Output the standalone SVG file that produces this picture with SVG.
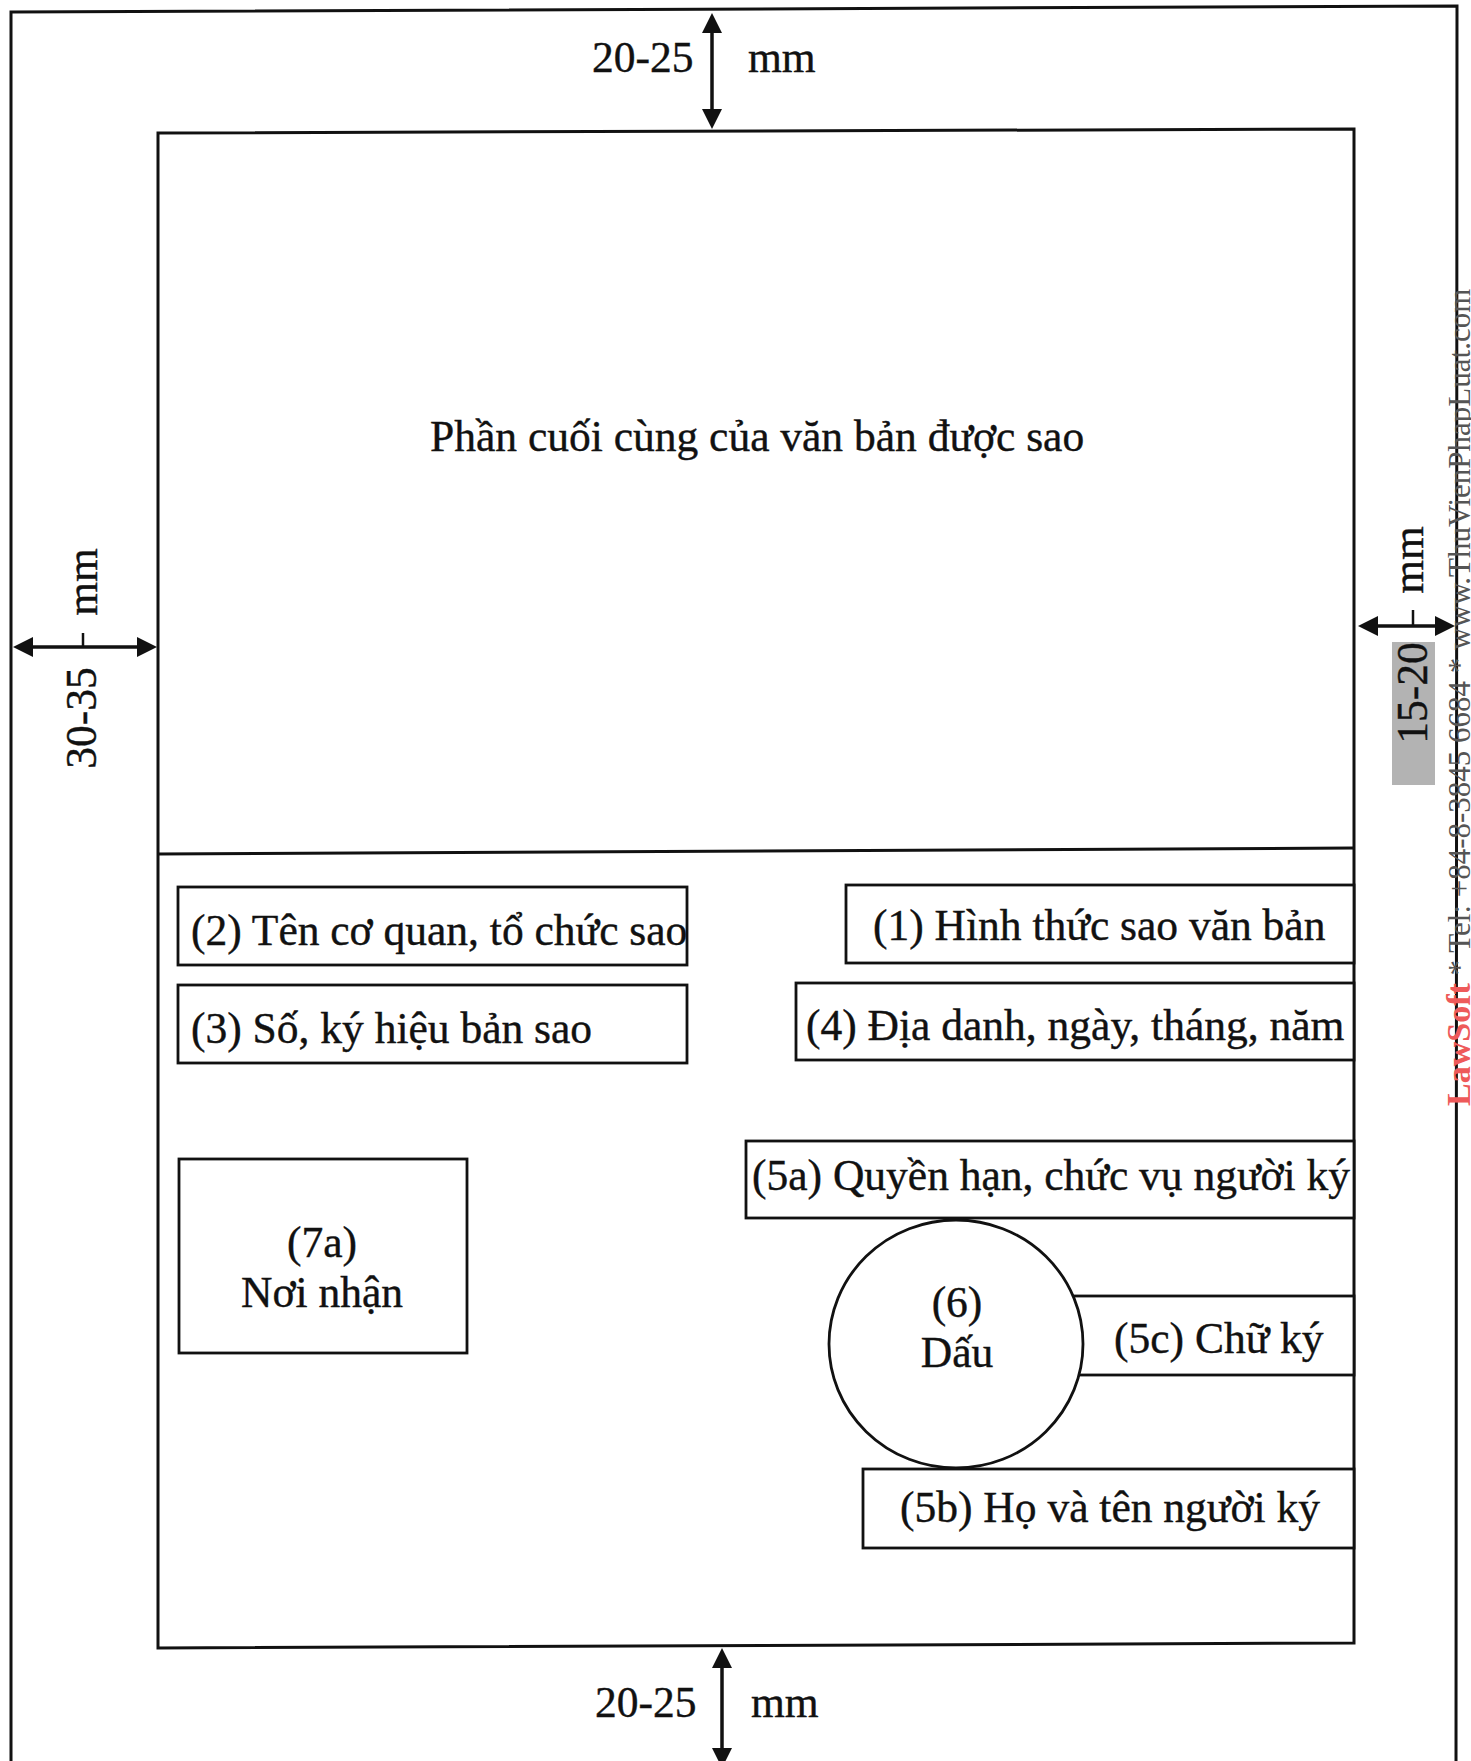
<svg xmlns="http://www.w3.org/2000/svg" width="1471" height="1761" viewBox="0 0 1471 1761">
  <style>
    .frame { fill: none; stroke: #111; stroke-width: 3; }
    .box { fill: #fff; stroke: #111; stroke-width: 2.8; }
    .dim { fill: none; stroke: #111; stroke-width: 3.5; }
    .tick { stroke: #111; stroke-width: 2.5; }
    .t { font-family: "Liberation Serif", "Times New Roman", serif; font-size: 43.5px; fill: #111; stroke: #111; stroke-width: 0.4; }
    .mid { text-anchor: middle; }
    .wm { font-family: "Liberation Serif", "Times New Roman", serif; font-size: 31px; fill: #555; }
    .wm-brand { font-size: 34px; font-weight: bold; fill: #ee5a5a; }
  </style>
  <defs>
    <marker id="arrow" viewBox="0 0 20 20" refX="10" refY="10" markerWidth="20" markerHeight="20" markerUnits="userSpaceOnUse" orient="auto-start-reverse">
      <path d="M0,0 L20,10 L0,20 z" fill="#111"/>
    </marker>
  </defs>

  <rect width="1471" height="1761" fill="#fff"/>

  <g id="page-frame">
    <path class="frame" d="M11,12 L1457,6 L1456,1780 L11,1780 Z"/>
  </g>

  <g id="text-area">
    <path class="frame" d="M158,133 L1354,129 L1354,1643 L158,1648 Z"/>
    <path class="frame" d="M158,854 L1354,848"/>
  </g>

  <g id="main-body">
    <text class="t" x="430" y="451">Phần cuối cùng của văn bản được sao</text>
  </g>

  <g id="node-2">
    <rect class="box" x="178" y="887" width="509" height="78"/>
    <text class="t" x="191" y="945">(2) Tên cơ quan, tổ chức sao</text>
  </g>

  <g id="node-3">
    <rect class="box" x="178" y="985" width="509" height="78"/>
    <text class="t" x="191" y="1043">(3) Số, ký hiệu bản sao</text>
  </g>

  <g id="node-1">
    <rect class="box" x="846" y="885" width="508" height="78"/>
    <text class="t" x="873" y="940">(1) Hình thức sao văn bản</text>
  </g>

  <g id="node-4">
    <rect class="box" x="796" y="983" width="558" height="77"/>
    <text class="t" x="806" y="1040">(4) Địa danh, ngày, tháng, năm</text>
  </g>

  <g id="node-5a">
    <rect class="box" x="746" y="1141" width="608" height="77"/>
    <text class="t" x="752" y="1190">(5a) Quyền hạn, chức vụ người ký</text>
  </g>

  <g id="node-5c">
    <rect class="box" x="1000" y="1296" width="354" height="79"/>
    <text class="t" x="1114" y="1353">(5c) Chữ ký</text>
  </g>

  <g id="node-6">
    <ellipse class="box" cx="956" cy="1344" rx="127" ry="124"/>
    <text class="t mid" x="957" y="1317">(6)</text>
    <text class="t mid" x="957" y="1367">Dấu</text>
  </g>

  <g id="node-5b">
    <rect class="box" x="863" y="1469" width="491" height="79"/>
    <text class="t" x="900" y="1522">(5b) Họ và tên người ký</text>
  </g>

  <g id="node-7a">
    <rect class="box" x="179" y="1159" width="288" height="194"/>
    <text class="t mid" x="322" y="1257">(7a)</text>
    <text class="t mid" x="322" y="1307">Nơi nhận</text>
  </g>

  <g id="margin-labels">
    <text class="t" x="592" y="72">20-25</text>
    <text class="t" x="748" y="72">mm</text>
    <text class="t" x="595" y="1717">20-25</text>
    <text class="t" x="751" y="1717">mm</text>
    <text class="t mid" transform="translate(97,582) rotate(-90)">mm</text>
    <text class="t mid" transform="translate(96,718) rotate(-90)">30-35</text>
    <text class="t mid" transform="translate(1423,560) rotate(-90)">mm</text>
    <rect x="1392" y="642" width="43" height="143" fill="#b3b3b3"/>
    <text class="t mid" transform="translate(1427,693) rotate(-90)">15-20</text>
  </g>

  <g id="connectors">
    <line class="dim" x1="712" y1="23" x2="712" y2="119" marker-start="url(#arrow)" marker-end="url(#arrow)"/>
    <line class="dim" x1="722" y1="1658" x2="722" y2="1758" marker-start="url(#arrow)" marker-end="url(#arrow)"/>
    <line class="dim" x1="23" y1="647" x2="147" y2="647" marker-start="url(#arrow)" marker-end="url(#arrow)"/>
    <line class="dim" x1="1368" y1="626" x2="1445" y2="626" marker-start="url(#arrow)" marker-end="url(#arrow)"/>
    <line class="tick" x1="83" y1="633" x2="83" y2="647"/>
    <line class="tick" x1="1413" y1="610" x2="1413" y2="626"/>
  </g>

  <g id="watermark">
    <text class="wm" transform="translate(1470,1106) rotate(-90)"><tspan class="wm-brand">LawSoft</tspan> * Tel: +84-8-3845 6684 * www.ThuVienPhapLuat.com</text>
  </g>
</svg>
